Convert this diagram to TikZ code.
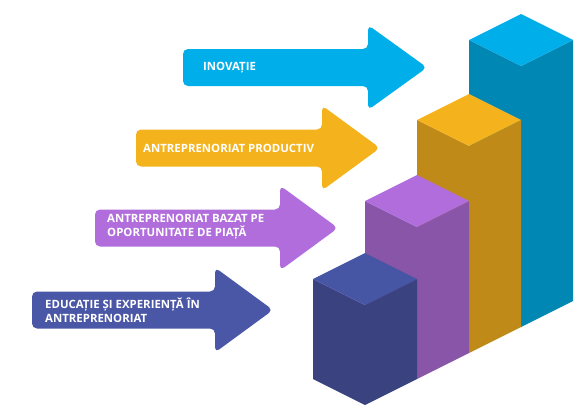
\documentclass[tikz,border=0pt]{standalone}
\usepackage{fontspec}
\newfontfamily\labfont{Open Sans}
\definecolor{cBlue}{HTML}{00AEEA}
\definecolor{cBlueS}{HTML}{0087B4}
\definecolor{cYel}{HTML}{F4B31C}
\definecolor{cYelS}{HTML}{BF8A17}
\definecolor{cPur}{HTML}{B06DDB}
\definecolor{cPurS}{HTML}{8955A8}
\definecolor{cNavy}{HTML}{4A56A6}
\definecolor{cNavyT}{HTML}{4756A4}
\definecolor{cNavyS}{HTML}{3A4380}
\tikzset{
  arrowshape/.style={rounded corners=5pt},
  lab/.style={anchor=west, inner sep=0pt, text=white, align=left,
    font=\labfont\bfseries\fontsize{11.4}{14}\selectfont},
}
% \bigarrow{color}{left x}{mid y}{head base x}{tip x}
\newcommand{\bigarrow}[5]{%
  \fill[#1, arrowshape] (#2,#3-18.5) -- (#4,#3-18.5) -- (#4,#3-42.5) -- (#5,#3)
    -- (#4,#3+42.5) -- (#4,#3+18.5) -- (#2,#3+18.5) -- cycle;}
% \isobar{top color}{side color}{front base x}{front base y}{height}
\newcommand{\isobar}[5]{%
  \fill[#2] (#3,#4) -- (#3-52,#4-26) -- (#3-52,#4-#5-26) -- (#3,#4-#5) -- cycle;
  \fill[#2] (#3,#4) -- (#3+52,#4-26) -- (#3+52,#4-#5-26) -- (#3,#4-#5) -- cycle;
  \fill[#1] (#3,#4-#5) -- (#3-52,#4-#5-26) -- (#3,#4-#5-52) -- (#3+52,#4-#5-26) -- cycle;}
\begin{document}
\begin{tikzpicture}[x=1pt,y=-1pt]
\useasboundingbox (0,0) rectangle (579,415);
% arrows
\bigarrow{cBlue}{183}{67.5}{368}{427}
\bigarrow{cYel}{136}{148}{322}{380}
\bigarrow{cPur}{95}{228}{280}{338}
\bigarrow{cNavy}{32}{310}{215}{273}
% labels
\node[lab] (t1) at (203,67.5) {INOVAȚIE};
\node[lab] (t2) at (143,148) {ANTREPRENORIAT PRODUCTIV};
\node[lab] (t3) at (107,227) {ANTREPRENORIAT BAZAT PE\\OPORTUNITATE DE PIAȚĂ};
\node[lab] (t4) at (45,310) {EDUCAȚIE ȘI EXPERIENȚĂ ÎN\\ANTREPRENORIAT};
% bars, back to front
\isobar{cBlue}{cBlueS}{521}{327}{261}
\isobar{cYel}{cYelS}{469}{353}{207}
\isobar{cPur}{cPurS}{417}{379}{152}
\isobar{cNavyT}{cNavyS}{365}{405}{100}
\end{tikzpicture}
\end{document}
